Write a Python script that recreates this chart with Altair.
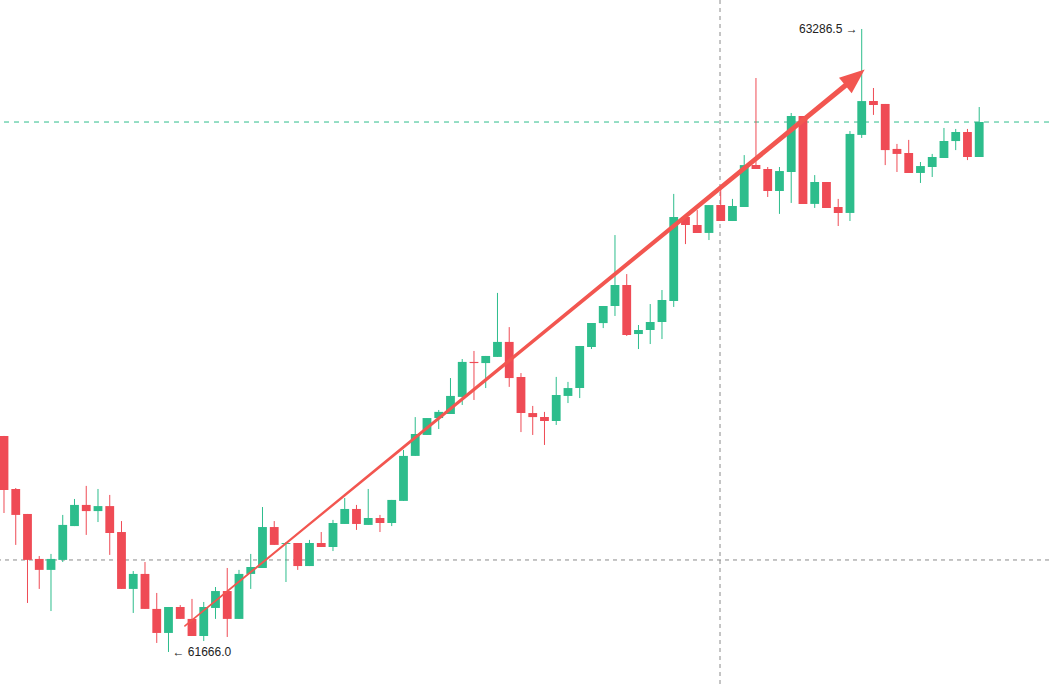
import altair as alt
import pandas as pd

# ---- candle data ----
opens = [62228, 62090, 62025, 61908, 61879.5, 61905.5, 61993.5, 62048.5, 62032.5, 62045.5,
         61978, 61830, 61869, 61778, 61715.5, 61783, 61752, 61707.5, 61780.5, 61824.5,
         61752, 61869, 61884.5, 61991, 61947, 61949.5, 61889.5, 61949.5, 61939, 61999,
         62038, 61996.5, 62014.5, 62001.5, 62059, 62176, 62230.5, 62274.5, 62285, 62329.5,
         62420.5, 62417.5, 62433.5, 62472.5, 62381.5, 62287.5, 62277, 62267, 62332, 62352.5,
         62459.5, 62521.5, 62566, 62620.5, 62493, 62503.5, 62524.5, 62579, 62797.5, 62776.5,
         62756, 62828.5, 62787, 62823.5, 62932.5, 62922.5, 62865, 62914.5, 63060, 62831.5,
         62888.5, 62823.5, 62808, 63011, 63099, 63091.5, 62974.5, 62964, 62912, 62927.5,
         62951, 62995, 63018.5, 62953.5]
highs = [62228, 62092.5, 62025, 61915.5, 61921, 62022.5, 62064, 62098, 62090, 62074.5,
         62006.5, 61876.5, 61900, 61819.5, 61783, 61788, 61804, 61796, 61835, 61884.5,
         61879.5, 61921, 62043, 62006.5, 61952, 61949.5, 61957.5, 61978, 62009.5, 62066.5,
         62048.5, 62090, 62022.5, 62061.5, 62191.5, 62277, 62274.5, 62295.5, 62378.5, 62428,
         62449, 62436, 62600, 62511, 62391.5, 62306, 62290.5, 62381.5, 62368.5, 62462,
         62521.5, 62566, 62750.5, 62649, 62516.5, 62571, 62607.5, 62857.5, 62797.5, 62815.5,
         62828.5, 62875.5, 62844.5, 62958.5, 63159, 62927.5, 62927.5, 63068, 63060, 62906.5,
         62888.5, 62844.5, 63021, 63286.5, 63133, 63091.5, 62987.5, 62998, 62940.5, 62961.5,
         63029, 63026.5, 63026.5, 63083.5]
lows = [62027.5, 61944.5, 61793.5, 61830, 61772.5, 61900, 61993.5, 61970.5, 62004, 61918.5,
        61830, 61767.5, 61778, 61689.5, 61666, 61752, 61707.5, 61694.5, 61752, 61705,
        61752, 61830, 61884.5, 61944.5, 61848, 61879.5, 61889.5, 61939, 61928.5, 61999,
        61983.5, 61996.5, 61978, 61993.5, 62059, 62176, 62230.5, 62246, 62285, 62308.5,
        62321.5, 62352.5, 62433.5, 62355.5, 62238, 62230.5, 62204.5, 62256.5, 62313.5, 62326.5,
        62454, 62508.5, 62540, 62488, 62454, 62467, 62480, 62563.5, 62727, 62756,
        62737.5, 62787, 62787, 62823.5, 62922.5, 62849.5, 62805.5, 62834, 62831.5, 62821,
        62821, 62774, 62787, 63003, 63063, 62932.5, 62914.5, 62912, 62886, 62901.5,
        62951, 62971.5, 62945.5, 62953.5]
closes = [62087.5, 62022.5, 61905.5, 61879.5, 61908, 61996.5, 62048.5, 62032.5, 62045.5, 61975.5,
          61830, 61869, 61778, 61715.5, 61783, 61752, 61707.5, 61783, 61824.5, 61752,
          61869, 61887, 61991, 61944.5, 61949.5, 61889.5, 61949.5, 61939, 62001.5, 62038,
          61999, 62014.5, 62001.5, 62061.5, 62176, 62233, 62274.5, 62290.5, 62332, 62420.5,
          62417.5, 62436, 62472.5, 62378.5, 62287.5, 62277, 62267, 62334.5, 62352.5, 62462,
          62521.5, 62566, 62620.5, 62490.5, 62503.5, 62524.5, 62581.5, 62797.5, 62776.5, 62756,
          62828.5, 62787, 62826, 62932.5, 62922.5, 62865, 62917, 63060, 62831.5, 62888.5,
          62821, 62808, 63013.5, 63099, 63088.5, 62971.5, 62961.5, 62912, 62930, 62953.5,
          62995, 63018.5, 62953.5, 63044.5]

# annotations (data coordinates: candle index, price)
high_label_index = 73
high_label_price = 63286.5
low_label_index = 14
low_label_price = 61666.0
last_price = 63044.5
cross_index = 60.94
cross_price = 61905.3

arrow_index = [15.4, 71.66]
arrow_price = [61733.6, 63140.8]
arrow_width = [1.6, 5.2]
head_index = [72.43]
head_price = [63160.3]

GREEN = "#2dbd8c"
RED = "#ef4b55"
ARROW = "#f25650"

df = pd.DataFrame({"i": list(range(len(opens))), "open": opens, "high": highs,
                   "low": lows, "close": closes})
df["dir"] = ["up" if c >= o else "down" for o, c in zip(opens, closes)]

xs = alt.Scale(domain=[-0.34, 88.94], nice=False, zero=False)
ys = alt.Scale(domain=[61574.9, 63361.9], nice=False, zero=False)
col = alt.Color("dir:N", scale=alt.Scale(domain=["up", "down"], range=[GREEN, RED]), legend=None)

base = alt.Chart(df)

wicks = base.mark_rule(strokeWidth=1).encode(
    x=alt.X("i:Q", scale=xs, axis=None),
    y=alt.Y("low:Q", scale=ys, axis=None),
    y2="high:Q",
    color=col,
)

bodies = base.transform_calculate(
    xa="datum.i - 0.375", xb="datum.i + 0.375"
).mark_rect().encode(
    x=alt.X("xa:Q", scale=xs, axis=None),
    x2="xb:Q",
    y=alt.Y("open:Q", scale=ys, axis=None),
    y2="close:Q",
    color=col,
)

lines_df = pd.DataFrame({"p": [last_price]})
last_line = alt.Chart(lines_df).mark_rule(color=GREEN, strokeWidth=1, strokeDash=[5, 5]).encode(
    y=alt.Y("p:Q", scale=ys, axis=None)
)

cross_h = alt.Chart(pd.DataFrame({"p": [cross_price]})).mark_rule(
    color="#8a8a8a", strokeWidth=1, strokeDash=[4, 4]).encode(
    y=alt.Y("p:Q", scale=ys, axis=None)
)
cross_v = alt.Chart(pd.DataFrame({"i": [cross_index]})).mark_rule(
    color="#8a8a8a", strokeWidth=1, strokeDash=[4, 4]).encode(
    x=alt.X("i:Q", scale=xs, axis=None)
)

arrow_df = pd.DataFrame({"i": arrow_index, "p": arrow_price, "w": arrow_width, "o": [0, 1]})
trail = alt.Chart(arrow_df).mark_trail(color=ARROW).encode(
    x=alt.X("i:Q", scale=xs, axis=None),
    y=alt.Y("p:Q", scale=ys, axis=None),
    size=alt.Size("w:Q", scale=None, legend=None),
    order="o:Q",
)

head = alt.Chart(pd.DataFrame({"i": head_index, "p": head_price})).mark_point(
    shape="M0,-1L-0.8,1L0.8,1Z", filled=True, size=625, angle=50.7,
    color=ARROW, opacity=1, strokeWidth=0,
).encode(
    x=alt.X("i:Q", scale=xs, axis=None),
    y=alt.Y("p:Q", scale=ys, axis=None),
)

hi_lbl = alt.Chart(pd.DataFrame({"i": [high_label_index], "p": [high_label_price],
                                 "t": [f"{high_label_price:.1f} \u2192"]})).mark_text(
    align="right", baseline="middle", dx=-4, fontSize=12, font="Liberation Sans", color="#222222"
).encode(x=alt.X("i:Q", scale=xs, axis=None), y=alt.Y("p:Q", scale=ys, axis=None), text="t:N")

lo_lbl = alt.Chart(pd.DataFrame({"i": [low_label_index], "p": [low_label_price],
                                 "t": [f"\u2190 {low_label_price:.1f}"]})).mark_text(
    align="left", baseline="middle", dx=4, fontSize=12, font="Liberation Sans", color="#222222"
).encode(x=alt.X("i:Q", scale=xs, axis=None), y=alt.Y("p:Q", scale=ys, axis=None), text="t:N")

chart = alt.layer(
    cross_h, cross_v, last_line, wicks, bodies, trail, head, hi_lbl, lo_lbl
).properties(
    width=1049, height=687, padding=0, autosize=alt.AutoSizeParams(type="none"),
    background="white",
).configure_view(stroke=None)

chart.save("out.html", embed_options={"renderer": "svg", "actions": False})
